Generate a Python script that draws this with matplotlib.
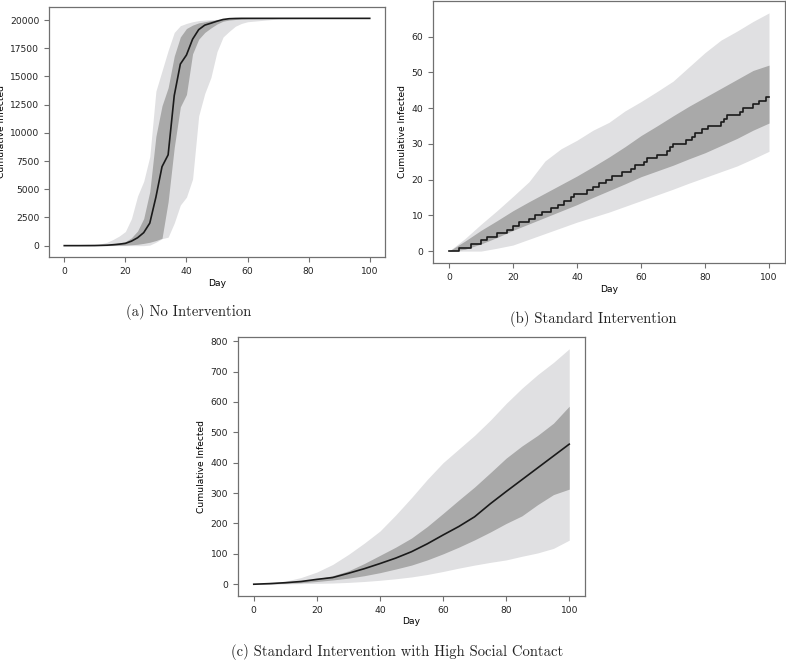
import numpy as np
import matplotlib
matplotlib.use('Agg')
import matplotlib.pyplot as plt

# ------------------------------------------------------------------
# (a) No Intervention
# ------------------------------------------------------------------
days_a = [0, 5, 10, 14, 16, 18, 20, 22, 24, 26, 28, 30, 32, 34, 36, 38, 40, 42,
          44, 46, 48, 50, 52, 54, 56, 58, 60, 70, 80, 90, 100]
median_a = [0, 0, 10, 40, 80, 130, 200, 400, 700, 1150, 2000, 4300, 7000, 8050,
            13300, 16100, 16900, 18300, 19150, 19550, 19720, 19900, 20050, 20120,
            20140, 20150, 20150, 20150, 20150, 20150, 20150]
inner_hi_a = [0, 0, 20, 80, 150, 250, 350, 700, 1300, 2400, 4800, 9700, 12400, 14000,
              16800, 18500, 19250, 19550, 19750, 19850, 19950, 20000, 20060, 20100,
              20130, 20150, 20150, 20150, 20150, 20150, 20150]
inner_lo_a = [0, 0, 0, 5, 15, 30, 50, 80, 120, 200, 300, 450, 650, 3900, 8700,
              12300, 13400, 17000, 18300, 18900, 19300, 19650, 19900, 20000, 20050,
              20100, 20120, 20150, 20150, 20150, 20150]
outer_hi_a = [0, 0, 20, 300, 550, 850, 1250, 2400, 4400, 5700, 7900, 13700, 15500,
              17300, 18900, 19500, 19700, 19850, 19950, 20000, 20030, 20060, 20080,
              20100, 20120, 20140, 20150, 20150, 20150, 20150, 20150]
outer_lo_a = [0, 0, 0, 0, 0, 0, 0, 0, 0, 0, 50, 300, 620, 750, 2000, 3600, 4300,
              5900, 11500, 13500, 14900, 17200, 18500, 19000, 19450, 19700, 19850,
              20100, 20150, 20150, 20150]

# ------------------------------------------------------------------
# (b) Standard Intervention
# ------------------------------------------------------------------
days_b = list(range(0, 101, 5))
# median is integer valued: day at which it steps up, and the new value
median_b_days = [0, 3, 7, 10, 12, 15, 18, 20, 22, 25, 27, 29, 32, 34, 36, 38, 39,
                 43, 45, 47, 49, 51, 54, 57, 58, 61, 62, 65, 68, 69, 70, 74, 76, 77,
                 79, 81, 85, 86, 87, 91, 92, 95, 97, 99, 100]
median_b_vals = [0, 1, 2, 3, 4, 5, 6, 7, 8, 9, 10, 11, 12, 13, 14, 15, 16, 17, 18,
                 19, 20, 21, 22, 23, 24, 25, 26, 27, 28, 29, 30, 31, 32, 33, 34, 35,
                 36, 37, 38, 39, 40, 41, 42, 43, 43]
inner_hi_b = [0, 2.8, 5.8, 8.5, 11.3, 13.8, 16.2, 18.6, 21, 23.6, 26.3, 29.2, 32.3,
              35, 37.8, 40.5, 43, 45.5, 48, 50.5, 52]
inner_lo_b = [0, 0.5, 2.0, 3.8, 5.8, 7.6, 9.4, 11.2, 13, 15, 16.9, 18.8, 20.8, 22.4,
              24, 25.8, 27.5, 29.5, 31.5, 33.8, 35.8]
outer_hi_b = [0, 3.5, 7.5, 11.3, 15.3, 19.4, 25.2, 28.6, 31, 33.8, 36, 39.2, 41.8,
              44.6, 47.5, 51.5, 55.5, 59, 61.5, 64.2, 66.6]
outer_lo_b = [0, 0, 0, 0.8, 1.7, 3.3, 4.9, 6.5, 8.1, 9.5, 10.9, 12.5, 14.1, 15.7,
              17.3, 19, 20.6, 22.2, 23.8, 25.8, 27.9]

# ------------------------------------------------------------------
# (c) Standard Intervention with High Social Contact
# ------------------------------------------------------------------
days_c = list(range(0, 101, 5))
median_c = [0, 2, 5, 9, 16, 22, 36, 51, 68, 86, 107, 133, 162, 190, 222, 265, 305,
            344, 383, 422, 461]
inner_hi_c = [0, 2, 6, 11, 18, 28, 44, 68, 95, 122, 152, 190, 233, 277, 320, 367,
              415, 455, 490, 530, 586]
inner_lo_c = [0, 1, 3, 5, 9, 14, 20, 28, 38, 50, 63, 80, 100, 122, 146, 172, 200,
              225, 262, 295, 313]
outer_hi_c = [0, 4, 10, 22, 40, 65, 98, 135, 175, 228, 285, 345, 400, 445, 490, 540,
              595, 645, 690, 730, 775]
outer_lo_c = [0, 0, 1, 2, 3, 4, 6, 9, 13, 18, 24, 32, 42, 53, 63, 72, 80, 92, 103,
              118, 145]

captions = ['(a) No Intervention',
            '(b) Standard Intervention',
            '(c) Standard Intervention with High Social Contact']

LIGHT = '#e0e0e2'
DARK = '#a9a9a9'
SPINE = '#707070'


def style_axes(ax):
    for s in ax.spines.values():
        s.set_color(SPINE)
        s.set_linewidth(0.9)
    ax.tick_params(labelsize=6.6, colors=SPINE, labelcolor='#222222',
                   length=3.5, width=0.8)
    ax.set_xlabel('Day', fontsize=6.6, labelpad=2)
    ax.set_ylabel('Cumulative Infected', fontsize=6.6, labelpad=3)
    ax.set_xticks([0, 20, 40, 60, 80, 100])


def draw_bands(ax, days, outer_lo, outer_hi, inner_lo, inner_hi):
    ax.fill_between(days, outer_lo, outer_hi, color=LIGHT, lw=0)
    ax.fill_between(days, inner_lo, inner_hi, color=DARK, lw=0)


fig = plt.figure(figsize=(7.86, 6.6), dpi=100)
W, H = 786.0, 660.0


def px_axes(x0, y0, x1, y1):
    return fig.add_axes([x0 / W, 1 - y1 / H, (x1 - x0) / W, (y1 - y0) / H])


ax_a = px_axes(49, 7, 385, 257)
draw_bands(ax_a, days_a, outer_lo_a, outer_hi_a, inner_lo_a, inner_hi_a)
ax_a.plot(days_a, median_a, color='#1a1a1a', lw=1.2)
ax_a.set_yticks(np.arange(0, 20001, 2500))
style_axes(ax_a)

ax_b = px_axes(433, 1, 785, 263)
draw_bands(ax_b, days_b, outer_lo_b, outer_hi_b, inner_lo_b, inner_hi_b)
ax_b.plot(median_b_days, median_b_vals, color='#1a1a1a', lw=1.2, drawstyle='steps-post')
ax_b.set_yticks([0, 10, 20, 30, 40, 50, 60])
style_axes(ax_b)

ax_c = px_axes(238, 337, 585, 596)
draw_bands(ax_c, days_c, outer_lo_c, outer_hi_c, inner_lo_c, inner_hi_c)
ax_c.plot(days_c, median_c, color='#1a1a1a', lw=1.2)
ax_c.set_yticks(np.arange(0, 801, 100))
style_axes(ax_c)

cap_pos = [(189, 312), (593, 319), (397, 652)]
for (cx, cy), txt in zip(cap_pos, captions):
    fig.text(cx / W, 1 - cy / H, txt, ha='center', va='center',
             fontsize=10.5, family='cmr10', color='#222222')

plt.savefig('out.png', dpi=100)
